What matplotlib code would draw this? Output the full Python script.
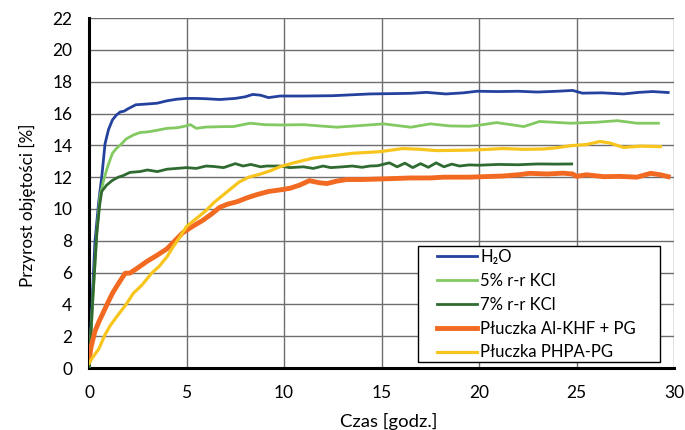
import matplotlib
matplotlib.use("Agg")
import matplotlib.pyplot as plt
from matplotlib.patches import Rectangle

plt.rcParams['font.family'] = ['Lato', 'DejaVu Sans']

h2o_x = [0, 0.15, 0.3, 0.5, 0.65, 0.82, 1.0, 1.2, 1.4, 1.6, 1.8, 2.0, 2.4, 3.0, 3.5, 4.0, 4.5, 5.0, 5.5, 6.0, 6.7, 7.5, 8.0, 8.4, 8.8, 9.2, 9.8, 11, 12.5, 14.4, 15.5, 16.5, 17.3, 18.3, 19.2, 19.9, 21, 22, 23, 24, 24.8, 25.3, 26.3, 27.4, 28.2, 28.9, 29.7]
h2o_y = [0, 4.0, 7.9, 10.5, 12.0, 14.1, 15.0, 15.6, 15.9, 16.1, 16.15, 16.3, 16.55, 16.6, 16.65, 16.8, 16.9, 16.95, 16.95, 16.93, 16.88, 16.95, 17.05, 17.2, 17.15, 17.0, 17.1, 17.1, 17.12, 17.23, 17.25, 17.27, 17.33, 17.23, 17.3, 17.4, 17.38, 17.4, 17.35, 17.4, 17.45, 17.28, 17.3, 17.23, 17.33, 17.38, 17.32]

kcl5_x = [0, 0.2, 0.4, 0.56, 0.75, 0.9, 1.05, 1.2, 1.4, 1.67, 1.9, 2.27, 2.6, 3.1, 3.5, 4.0, 4.5, 4.9, 5.2, 5.5, 6.0, 7.0, 7.4, 8.26, 9.0, 9.8, 11, 12.7, 14, 15.1, 16.5, 17.5, 18.5, 19.5, 20.2, 20.9, 22.3, 23.1, 24.7, 26, 27.1, 28.1, 29.2]
kcl5_y = [0, 4.5, 8.5, 10.8, 11.8, 12.45, 13.0, 13.5, 13.8, 14.1, 14.4, 14.65, 14.8, 14.86, 14.95, 15.07, 15.1, 15.2, 15.3, 15.07, 15.15, 15.18, 15.18, 15.39, 15.3, 15.28, 15.3, 15.14, 15.25, 15.35, 15.14, 15.35, 15.22, 15.2, 15.3, 15.43, 15.18, 15.5, 15.39, 15.45, 15.55, 15.39, 15.39]

kcl7_x = [0, 0.2, 0.4, 0.55, 0.65, 0.9, 1.2, 1.5, 1.75, 2.1, 2.6, 3.0, 3.5, 4.0, 4.5, 5.0, 5.5, 6.0, 6.4, 6.9, 7.5, 7.9, 8.3, 8.8, 9.1, 9.8, 10.3, 11, 11.5, 12, 12.4, 13, 13.5, 14.0, 14.4, 14.8, 15.4, 15.8, 16.2, 16.6, 17.0, 17.4, 17.8, 18.2, 18.6, 19.0, 19.5, 20, 21, 22, 23, 24, 24.75]
kcl7_y = [0, 4.5, 8.5, 10.3, 11.1, 11.5, 11.8, 12.0, 12.1, 12.3, 12.35, 12.45, 12.35, 12.5, 12.55, 12.6, 12.55, 12.7, 12.67, 12.6, 12.85, 12.7, 12.8, 12.65, 12.7, 12.7, 12.6, 12.65, 12.55, 12.7, 12.6, 12.65, 12.7, 12.62, 12.7, 12.72, 12.9, 12.65, 12.88, 12.6, 12.85, 12.62, 12.9, 12.65, 12.82, 12.7, 12.77, 12.75, 12.8, 12.78, 12.83, 12.82, 12.83]

alkhf_x = [0, 0.1, 0.3, 0.5, 0.73, 1.0, 1.2, 1.5, 1.85, 2.1, 2.5, 2.96, 3.5, 4.0, 4.4, 4.8, 5.3, 5.85, 6.3, 6.7, 7.1, 7.6, 8.1, 8.6, 9.2, 9.8, 10.3, 10.8, 11.3, 11.8, 12.2, 12.7, 13.2, 14, 15.3, 16.5, 17.5, 18.2, 19.5, 21.2, 22, 22.6, 23.5, 24.3, 24.8, 25.0, 25.5, 26.4, 27.2, 28.1, 28.8, 29.3, 29.7]
alkhf_y = [0.5, 1.3, 2.3, 2.9, 3.5, 4.2, 4.7, 5.3, 5.96, 5.97, 6.3, 6.7, 7.1, 7.5, 8.0, 8.5, 8.9, 9.3, 9.7, 10.1, 10.3, 10.46, 10.7, 10.9, 11.1, 11.2, 11.3, 11.5, 11.78, 11.65, 11.6, 11.75, 11.85, 11.85, 11.9, 11.95, 11.95, 12.0, 12.0, 12.07, 12.15, 12.24, 12.2, 12.25, 12.2, 12.05, 12.15, 12.03, 12.05, 12.0, 12.24, 12.15, 12.03]

phpa_x = [0, 0.2, 0.5, 0.82, 1.1, 1.4, 1.65, 1.9, 2.27, 2.7, 3.2, 3.6, 4.0, 4.3, 4.67, 5.0, 5.4, 5.7, 6.0, 6.4, 6.9, 7.3, 7.7, 8.2, 8.8, 9.3, 9.8, 10.5, 11.5, 12.5, 13.5, 14.9, 16.1, 17.0, 17.8, 19.5, 20.5, 21.2, 22.3, 23.3, 24.0, 24.7, 25.5, 26.2, 26.7, 27.4, 28.3, 29.3]
phpa_y = [0.3, 0.7, 1.2, 2.1, 2.7, 3.2, 3.6, 4.0, 4.7, 5.2, 5.95, 6.4, 7.0, 7.6, 8.26, 8.9, 9.3, 9.6, 9.9, 10.4, 10.9, 11.3, 11.7, 12.0, 12.2, 12.4, 12.66, 12.9, 13.2, 13.35, 13.5, 13.6, 13.8, 13.75, 13.67, 13.7, 13.75, 13.8, 13.75, 13.77, 13.85, 13.98, 14.05, 14.24, 14.15, 13.87, 13.95, 13.92]

labels = ["H\u2082O", "5% r-r KCl", "7% r-r KCl", "Płuczka Al-KHF + PG", "Płuczka PHPA-PG"]
x_ticks = [0, 5, 10, 15, 20, 25, 30]
y_ticks = list(range(0, 23, 2))

fig = plt.figure(figsize=(6.85, 4.3), dpi=100)
ax = fig.add_axes([0.130, 0.144, 0.854, 0.814])

ax.plot(h2o_x, h2o_y, color='#25419E', lw=2.0, label=labels[0], zorder=3)
ax.plot(kcl5_x, kcl5_y, color='#82C962', lw=2.0, label=labels[1], zorder=3)
ax.plot(kcl7_x, kcl7_y, color='#2F6B30', lw=2.0, label=labels[2], zorder=3)
ax.plot(alkhf_x, alkhf_y, color='#F26A22', lw=3.5, label=labels[3], zorder=3)
ax.plot(phpa_x, phpa_y, color='#F7C51E', lw=2.3, label=labels[4], zorder=3)

ax.set_xlim(0, 30)
ax.set_ylim(0, 22)
ax.set_xticks(x_ticks)
ax.set_yticks(y_ticks)
ax.tick_params(length=0, labelsize=12.5, pad=12)
ax.grid(True, color='#6e6e6e', lw=1.0, zorder=0)
ax.set_axisbelow(True)
for s in ['top', 'right']:
    ax.spines[s].set_visible(False)
ax.spines['bottom'].set_linewidth(2.2)
ax.spines['left'].set_linewidth(2.2)
ax.spines['left'].set_color('black')

ax.set_xlabel("Czas [godz.]", fontsize=13.3)
ax.set_ylabel("Przyrost objętości [%]", fontsize=12.3)
ax.xaxis.set_label_coords(0.513, -0.129)
ax.yaxis.set_label_coords(-0.09, 0.466)

# legend frame box
ax.add_patch(Rectangle((0.562, 0.017), 0.414, 0.331, transform=ax.transAxes,
                       facecolor='white', edgecolor='black', lw=1.0, zorder=4.5))
leg = ax.legend(loc='upper left', bbox_to_anchor=(0.595, 0.340), fontsize=12,
                frameon=False, handlelength=2.4, borderpad=0, labelspacing=0.47,
                handletextpad=0.2, borderaxespad=0)
leg.set_zorder(5)

fig.savefig("out.png", dpi=100)
